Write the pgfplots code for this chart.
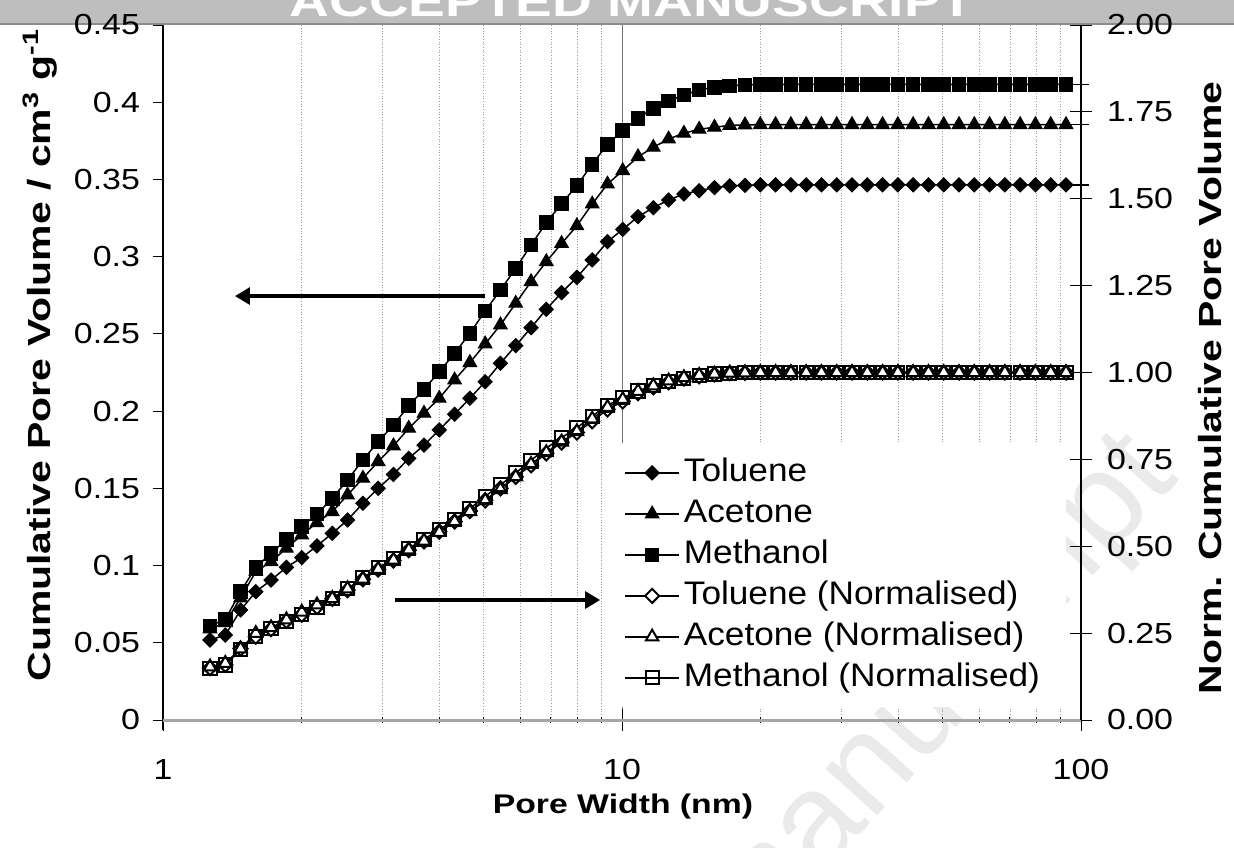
\documentclass[border=0pt]{standalone}
\usepackage{pgfplots}
\pgfplotsset{compat=1.18}
\usepackage{pgfplotstable}
\usepackage{fontspec}
\setmainfont{Liberation Sans}[FakeStretch=1.17]
\newfontfamily\titlefont{Liberation Sans}[FakeStretch=1.28]
\newfontfamily\xtitlefont{Liberation Sans}[FakeStretch=1.25]
\newfontfamily\legfont{Liberation Sans}[FakeStretch=1.08]
\newfontfamily\wmfont{Liberation Sans}
\usetikzlibrary{arrows.meta}
\definecolor{bannergray}{RGB}{190,190,190}
\definecolor{bannerline}{RGB}{140,140,140}
\definecolor{wm}{RGB}{234,234,234}

\pgfplotstableread{
x tol ace meth ntol nace nmeth
1.266 0.0518 0.0590 0.0609 0.1495 0.1530 0.1480
1.367 0.0550 0.0630 0.0652 0.1587 0.1634 0.1584
1.476 0.0712 0.0790 0.0831 0.2055 0.2049 0.2019
1.593 0.0831 0.0961 0.0989 0.2398 0.2493 0.2403
1.720 0.0906 0.1025 0.1079 0.2615 0.2659 0.2622
1.858 0.0989 0.1112 0.1170 0.2854 0.2885 0.2843
2.006 0.1051 0.1198 0.1252 0.3033 0.3108 0.3043
2.165 0.1127 0.1278 0.1334 0.3253 0.3315 0.3242
2.338 0.1209 0.1349 0.1435 0.3489 0.3499 0.3487
2.524 0.1295 0.1457 0.1554 0.3737 0.3780 0.3776
2.726 0.1403 0.1565 0.1684 0.4049 0.4060 0.4092
2.943 0.1500 0.1673 0.1802 0.4329 0.4340 0.4379
3.178 0.1590 0.1775 0.1910 0.4589 0.4604 0.4642
3.431 0.1694 0.1889 0.2035 0.4889 0.4900 0.4945
3.704 0.1780 0.1986 0.2141 0.5137 0.5152 0.5203
3.999 0.1878 0.2083 0.2255 0.5420 0.5403 0.5480
4.318 0.1980 0.2202 0.2374 0.5714 0.5712 0.5769
4.662 0.2083 0.2314 0.2504 0.6012 0.6003 0.6085
5.034 0.2190 0.2435 0.2648 0.6320 0.6316 0.6435
5.435 0.2310 0.2558 0.2784 0.6667 0.6636 0.6766
5.868 0.2424 0.2698 0.2924 0.6996 0.6999 0.7106
6.336 0.2540 0.2838 0.3075 0.7330 0.7362 0.7473
6.841 0.2659 0.2968 0.3220 0.7674 0.7699 0.7825
7.386 0.2767 0.3085 0.3343 0.7986 0.8003 0.8124
7.975 0.2866 0.3200 0.3460 0.8271 0.8301 0.8408
8.611 0.2979 0.3341 0.3598 0.8597 0.8667 0.8744
9.297 0.3097 0.3470 0.3728 0.8938 0.9001 0.9060
10.038 0.3177 0.3557 0.3816 0.9169 0.9227 0.9273
10.838 0.3259 0.3647 0.3896 0.9405 0.9460 0.9468
11.702 0.3317 0.3708 0.3961 0.9573 0.9619 0.9626
12.634 0.3367 0.3762 0.4008 0.9717 0.9759 0.9740
13.641 0.3406 0.3799 0.4047 0.9830 0.9855 0.9835
14.728 0.3427 0.3825 0.4079 0.9890 0.9922 0.9913
15.902 0.3447 0.3838 0.4097 0.9948 0.9956 0.9956
17.169 0.3458 0.3850 0.4105 0.9980 0.9987 0.9976
18.537 0.3462 0.3853 0.4112 0.9991 0.9995 0.9993
20.015 0.3465 0.3855 0.4115 1 1 1
21.610 0.3465 0.3855 0.4115 1 1 1
23.332 0.3465 0.3855 0.4115 1 1 1
25.191 0.3465 0.3855 0.4115 1 1 1
27.199 0.3465 0.3855 0.4115 1 1 1
29.366 0.3465 0.3855 0.4115 1 1 1
31.707 0.3465 0.3855 0.4115 1 1 1
34.233 0.3465 0.3855 0.4115 1 1 1
36.961 0.3465 0.3855 0.4115 1 1 1
39.907 0.3465 0.3855 0.4115 1 1 1
43.087 0.3465 0.3855 0.4115 1 1 1
46.521 0.3465 0.3855 0.4115 1 1 1
50.228 0.3465 0.3855 0.4115 1 1 1
54.231 0.3465 0.3855 0.4115 1 1 1
58.553 0.3465 0.3855 0.4115 1 1 1
63.219 0.3465 0.3855 0.4115 1 1 1
68.257 0.3465 0.3855 0.4115 1 1 1
73.696 0.3465 0.3855 0.4115 1 1 1
79.569 0.3465 0.3855 0.4115 1 1 1
85.910 0.3465 0.3855 0.4115 1 1 1
92.756 0.3465 0.3855 0.4115 1 1 1
}\data

\pgfplotsset{
  ser/.style={black, line width=0.75pt},
  tolst/.style={ser, mark=square*, mark size=2.5pt, mark options={solid, rotate=45, fill=black, line width=0.5pt}},
  acest/.style={ser, mark=triangle*, mark size=3.9pt, mark options={solid, fill=black, line width=0.5pt}},
  methst/.style={ser, mark=square*, mark size=3.4pt, mark options={solid, fill=black, line width=0.5pt}},
  ntolst/.style={ser, mark=square*, mark size=2.5pt, mark options={solid, rotate=45, fill=white, line width=1pt}},
  nacest/.style={ser, mark=triangle*, mark size=3.6pt, mark options={solid, fill=white, line width=1pt}},
  nmethst/.style={ser, mark=square, mark size=3.3pt, mark options={solid, line width=1pt}},
}

\begin{document}
\begin{tikzpicture}
% banner
\fill[bannergray] (-81.5pt,348pt) rectangle (535.5pt,380pt);
\draw[bannerline, line width=1pt] (-81.5pt,348pt) -- (535.5pt,348pt);
\node[white, font=\titlefont\fontsize{21.5}{21.5}\selectfont\bfseries, anchor=base, inner sep=0pt] at (234.5pt,351.5pt) {ACCEPTED MANUSCRIPT};
% watermark
\node[wm, rotate=48, font=\wmfont\fontsize{66}{66}\selectfont] at (388pt,12pt) {manuscript};

\begin{axis}[
  at={(0pt,0pt)}, anchor=south west,
  scale only axis, width=459pt, height=347.5pt,
  xmode=log, xmin=1, xmax=100, ymin=0, ymax=0.45,
  clip=false,
  axis x line*=bottom, axis y line*=left,
  x axis line style={draw=black!35, line width=1.5pt},
  y axis line style={draw=black, line width=0.6pt},
  xtick={1,10,100}, xticklabels={,,},
  minor xtick={2,3,4,5,6,7,8,9,20,30,40,50,60,70,80,90},
  xmajorgrids, xminorgrids,
  major grid style={draw=black!55, line width=0.5pt},
  minor grid style={draw=black!40, line width=0.35pt, densely dotted},
  ytick={0,0.05,0.1,0.15,0.2,0.25,0.3,0.35,0.4,0.45},
  yticklabels={0,0.05,0.1,0.15,0.2,0.25,0.3,0.35,0.4,0.45},
  tick align=outside, major tick length=5pt, minor tick length=0pt,
  tick style={black, line width=0.5pt},
  yticklabel style={font=\fontsize{14.5}{14.5}\selectfont, xshift=-3pt},
  ylabel={Cumulative Pore Volume / cm\textsuperscript{3} g\textsuperscript{-1}},
  ylabel style={at={(axis description cs:-0.134,0.525)}, anchor=center, font=\titlefont\fontsize{16}{16}\selectfont\bfseries},
  xlabel={Pore Width (nm)},
  xlabel style={at={(axis description cs:0.501,-0.1245)}, anchor=center, font=\xtitlefont\fontsize{13.5}{13.5}\selectfont\bfseries},
]
\addplot[tolst] table[x=x,y=tol]{\data};
\addplot[acest] table[x=x,y=ace]{\data};
\addplot[methst] table[x=x,y=meth]{\data};
\addplot[ser, no marks, forget plot] coordinates {(92.756,0.3465) (104,0.3465)};
\addplot[ser, no marks, forget plot] coordinates {(92.756,0.3855) (104,0.3855)};
\addplot[ser, no marks, forget plot] coordinates {(92.756,0.4115) (104,0.4115)};
\draw[line width=1.6pt, -{Triangle[length=7.5pt,width=8.5pt]}] (axis cs:5.03,0.2745) -- (axis cs:1.435,0.2745);
\draw[line width=1.6pt, -{Triangle[length=7.5pt,width=8.5pt]}] (axis cs:3.2,0.0777) -- (axis cs:8.96,0.0777);
\end{axis}

\begin{axis}[
  at={(0pt,0pt)}, anchor=south west,
  scale only axis, width=459pt, height=347.5pt,
  xmode=log, xmin=1, xmax=100, ymin=0, ymax=2,
  clip=false,
  axis x line*=bottom, axis y line*=right,
  hide obscured x ticks=false,
  x axis line style={draw=black!35, line width=1.5pt},
  y axis line style={draw=black, line width=0.6pt},
  xtick={1,10,100}, xticklabels={1,10,100},
  minor xtick={},
  ytick={0,0.25,0.5,0.75,1,1.25,1.5,1.75,2},
  yticklabels={0.00,0.25,0.50,0.75,1.00,1.25,1.50,1.75,2.00},
  tick align=center, major tick length=11pt,
  tick style={black, line width=0.5pt},
  ticklabel style={font=\fontsize{14.5}{14.5}\selectfont},
  xticklabel style={yshift=-10.5pt},
  yticklabel style={xshift=4pt},
  ylabel={Norm. Cumulative Pore Volume},
  ylabel style={at={(axis description cs:1.1405,0.478)}, anchor=center, rotate=0, font=\titlefont\fontsize{16}{16}\selectfont\bfseries},
  legend style={at={(0.4782,0.3986)}, anchor=north west, draw=none, fill=white,
    inner xsep=11pt, inner ysep=5pt,
    font=\legfont\fontsize{16.3}{16.3}\selectfont, row sep=1pt,
    nodes={text height=12pt, text depth=3.5pt, inner sep=2pt}},
  legend cell align=left,
  legend image code/.code={\draw[mark repeat=2,mark phase=2,#1] plot coordinates {(0pt,0pt) (13.5pt,0pt) (27pt,0pt)};},
]
\addlegendimage{tolst}
\addlegendentry{Toluene}
\addlegendimage{acest}
\addlegendentry{Acetone}
\addlegendimage{methst}
\addlegendentry{Methanol}
\addplot[ntolst] table[x=x,y=ntol]{\data};
\addlegendentry{Toluene (Normalised)}
\addplot[nacest] table[x=x,y=nace]{\data};
\addlegendentry{Acetone (Normalised)}
\addplot[nmethst] table[x=x,y=nmeth]{\data};
\addlegendentry{Methanol (Normalised)}
\addplot[ser, no marks, forget plot] coordinates {(92.756,1) (104,1)};
\end{axis}
\pgfresetboundingbox
\path[use as bounding box] (-81.5pt,-63.5pt) rectangle (535.5pt,360pt);
\end{tikzpicture}
\end{document}
